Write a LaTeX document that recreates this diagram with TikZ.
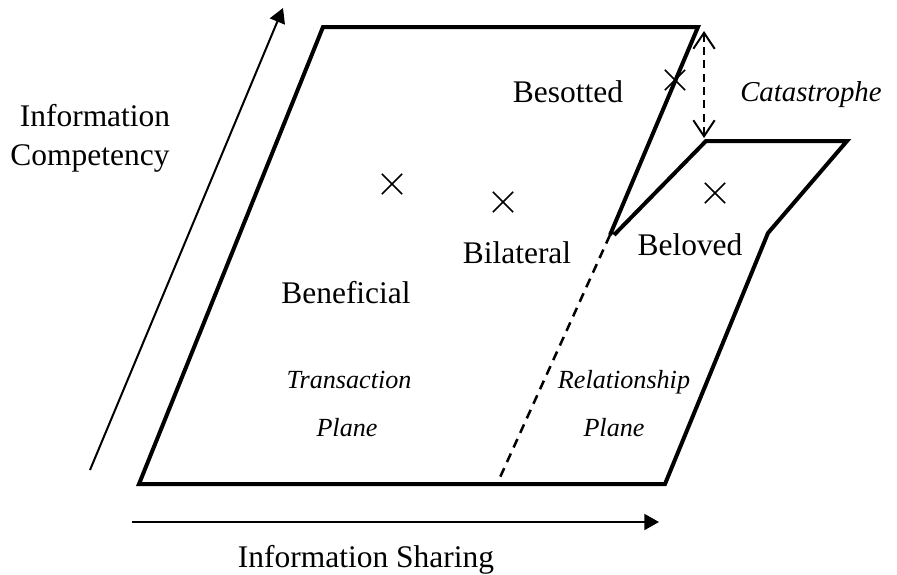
\documentclass[tikz,border=0pt]{standalone}
\usepackage{fontspec}
\setmainfont{Liberation Serif}
\usetikzlibrary{arrows.meta,shapes.misc}
\begin{document}
\begin{tikzpicture}[x=0.75pt,y=-0.75pt,
  edge/.style={line width=3pt, line join=miter, line cap=butt},
  foldline/.style={line width=1.9pt, dash pattern=on 7pt off 5pt},
  axis/.style={line width=1.5pt, -{Triangle[length=11pt,width=12pt]}},
  jump/.style={line width=1.5pt, dash pattern=on 6pt off 4pt,
    {Straight Barb[length=12pt,width=16pt]}-{Straight Barb[length=12pt,width=16pt]}},
  mark x/.style={cross out, draw, line width=1.2pt, minimum size=14pt, inner sep=0pt},
  lbl/.style={font=\fontsize{23.6}{28}\selectfont, anchor=base, inner sep=0pt},
  cat/.style={font=\fontsize{21.6}{26}\itshape\selectfont, anchor=base west, inner sep=0pt},
  plbl/.style={font=\fontsize{19.6}{24}\itshape\selectfont, anchor=base, inner sep=0pt}]

\useasboundingbox (0,0) rectangle (897,575);

% corners of the folded surface
\coordinate (foldA) at (610,235);
\coordinate (foldB) at (614,235);
\coordinate (tr) at (698,27);
\coordinate (tl) at (323,27);
\coordinate (bl) at (139,484);
\coordinate (br) at (665,484);
\coordinate (kink) at (768,233);
\coordinate (rt) at (847,141);
\coordinate (lt) at (706,141);
\coordinate (db) at (497,484);

% outline of the two planes
\draw[edge] (foldA) -- (tr) -- (tl) -- (bl) -- (br) -- (kink) -- (rt) -- (lt) -- (foldB);

% hidden continuation of the fold
\draw[foldline] (foldA) -- (db);

% catastrophic jump between the sheets
\coordinate (jt) at (704,31);
\coordinate (jb) at (704,138);
\draw[jump] (jt) -- (jb);

% axes
\coordinate (ya) at (90,470);
\coordinate (yb) at (283,8);
\draw[axis] (ya) -- (yb);
\coordinate (xa) at (132,522);
\coordinate (xb) at (659,522);
\draw[axis] (xa) -- (xb);

% positions
\node[mark x] (m1) at (392,184) {};
\node[mark x] (m2) at (503,202) {};
\node[mark x] (m3) at (675,80) {};
\node[mark x] (m4) at (715,193) {};

% labels
\node[lbl] (infoA) at (95,126) {Information};
\node[lbl] (infoB) at (90,165) {Competency};
\node[lbl] (sharing) at (366,567) {Information Sharing};
\node[lbl] (besotted) at (568,102) {Besotted};
\node[cat] (catas) at (740,101) {Catastrophe};
\node[lbl] (beloved) at (690,255) {Beloved};
\node[lbl] (bilateral) at (517,263) {Bilateral};
\node[lbl] (beneficial) at (346,303) {Beneficial};
\node[plbl] (transA) at (349,388) {Transaction};
\node[plbl] (transB) at (347,436) {Plane};
\node[plbl] (relA) at (624,388) {Relationship};
\node[plbl] (relB) at (614,436) {Plane};
\end{tikzpicture}
\end{document}
